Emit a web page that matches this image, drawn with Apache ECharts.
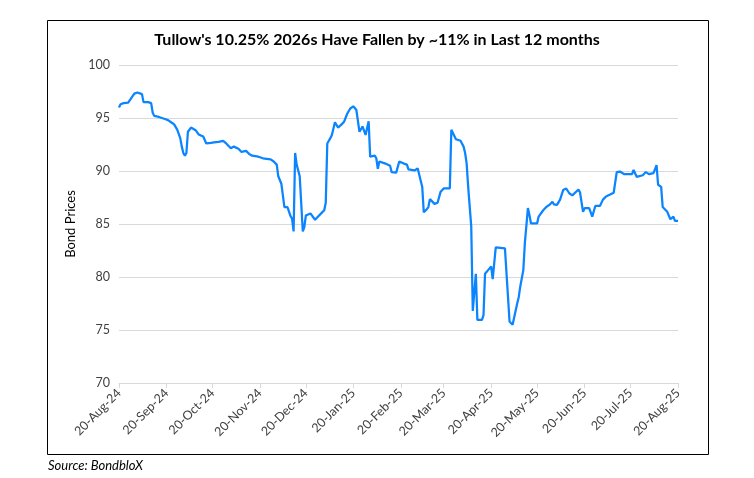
<!DOCTYPE html>
<html>
<head>
<meta charset="utf-8">
<script src="https://cdn.jsdelivr.net/npm/echarts@6/dist/echarts.min.js"></script>
<style>
html,body{margin:0;padding:0;background:#fff;}
#chart{width:754px;height:478px;}
</style>
</head>
<body>
<div id="chart"></div>
<script>
const titleText = "Tullow's 10.25% 2026s Have Fallen by ~11% in Last 12 months";
const yAxisName = "Bond Prices";
const sourceText = "Source: BondbloX";
const yTicks = [70, 75, 80, 85, 90, 95, 100];
const xTickDates = ["2024-08-20","2024-09-20","2024-10-20","2024-11-20","2024-12-20","2025-01-20","2025-02-20","2025-03-20","2025-04-20","2025-05-20","2025-06-20","2025-07-20","2025-08-20"];
const monthNames = ["Jan","Feb","Mar","Apr","May","Jun","Jul","Aug","Sep","Oct","Nov","Dec"];

const dates = [
"2024-08-20","2024-08-21","2024-08-23","2024-08-26","2024-08-27","2024-08-30","2024-09-01","2024-09-04","2024-09-05","2024-09-08",
"2024-09-10","2024-09-11","2024-09-12","2024-09-13","2024-09-15","2024-09-17","2024-09-19","2024-09-20","2024-09-21","2024-09-23",
"2024-09-25","2024-09-27","2024-09-29","2024-09-30","2024-10-01","2024-10-02","2024-10-03","2024-10-04","2024-10-06","2024-10-09",
"2024-10-11","2024-10-14","2024-10-16","2024-10-17","2024-10-19","2024-10-21","2024-10-22","2024-10-24","2024-10-27","2024-10-29",
"2024-11-01","2024-11-03","2024-11-04","2024-11-06","2024-11-08","2024-11-11","2024-11-13","2024-11-15","2024-11-19","2024-11-20",
"2024-11-22","2024-11-27","2024-11-29","2024-12-01","2024-12-02","2024-12-04","2024-12-06","2024-12-08","2024-12-10","2024-12-11",
"2024-12-12","2024-12-13","2024-12-14","2024-12-16","2024-12-17","2024-12-18","2024-12-19","2024-12-20","2024-12-23","2024-12-26",
"2024-12-28","2024-12-30","2025-01-01","2025-01-02","2025-01-03","2025-01-05","2025-01-06","2025-01-08","2025-01-10","2025-01-12",
"2025-01-14","2025-01-16","2025-01-18","2025-01-20","2025-01-21","2025-01-22","2025-01-24","2025-01-26","2025-01-28","2025-01-30",
"2025-01-31","2025-02-03","2025-02-04","2025-02-05","2025-02-06","2025-02-10","2025-02-13","2025-02-14","2025-02-17","2025-02-19",
"2025-02-22","2025-02-24","2025-02-25","2025-03-01","2025-03-03","2025-03-04","2025-03-06","2025-03-07","2025-03-09","2025-03-10",
"2025-03-11","2025-03-12","2025-03-14","2025-03-16","2025-03-18","2025-03-20","2025-03-24","2025-03-25","2025-03-26","2025-03-28",
"2025-03-31","2025-04-02","2025-04-03","2025-04-04","2025-04-05","2025-04-07","2025-04-08","2025-04-10","2025-04-11","2025-04-14",
"2025-04-15","2025-04-16","2025-04-18","2025-04-20","2025-04-21","2025-04-23","2025-04-29","2025-05-02","2025-05-04","2025-05-05",
"2025-05-07","2025-05-08","2025-05-09","2025-05-11","2025-05-12","2025-05-14","2025-05-15","2025-05-16","2025-05-20","2025-05-21",
"2025-05-24","2025-05-26","2025-05-27","2025-05-28","2025-05-30","2025-05-31","2025-06-02","2025-06-04","2025-06-06","2025-06-08",
"2025-06-10","2025-06-12","2025-06-16","2025-06-17","2025-06-19","2025-06-20","2025-06-23","2025-06-25","2025-06-27","2025-06-30",
"2025-07-02","2025-07-04","2025-07-07","2025-07-09","2025-07-11","2025-07-13","2025-07-16","2025-07-21","2025-07-22","2025-07-24",
"2025-07-28","2025-07-30","2025-08-01","2025-08-04","2025-08-06","2025-08-07","2025-08-09","2025-08-10","2025-08-13","2025-08-15",
"2025-08-16","2025-08-17","2025-08-18","2025-08-20"
];
const prices = [
96.0,96.3,96.4,96.45,96.5,97.3,97.4,97.25,96.5,96.5,
96.4,95.5,95.2,95.3,95.1,95.0,94.9,95.0,94.8,94.6,
94.4,93.9,93.1,92.3,91.7,91.45,91.7,93.7,94.1,93.85,
93.45,93.25,92.6,92.7,92.65,92.7,92.6,92.75,92.85,92.6,
92.15,92.3,92.4,92.1,91.8,91.9,91.6,91.45,91.35,91.45,
91.2,91.1,90.9,90.6,89.5,88.8,86.6,86.6,85.75,85.5,
84.3,91.7,90.6,89.5,89.5,84.3,84.7,85.8,86.0,85.4,
85.7,86.0,86.3,87.0,92.6,93.1,93.4,94.6,94.1,94.35,
94.65,95.4,95.9,96.1,96.2,95.75,93.7,94.2,93.4,94.7,
91.35,91.45,91.2,90.2,90.9,90.7,90.5,89.9,89.85,90.9,
90.7,90.6,90.15,90.05,90.25,90.1,88.5,86.1,86.4,86.6,
87.35,87.2,86.9,87.0,88.05,88.35,88.35,93.9,93.95,93.0,
92.85,92.3,91.7,90.7,88.5,84.75,76.8,80.3,75.95,75.95,
76.4,80.3,80.65,81.0,79.8,82.8,82.7,75.8,75.5,75.6,
77.5,78.1,79.1,80.65,83.2,86.5,85.85,85.05,85.05,85.7,
86.3,86.6,86.55,86.8,87.1,86.85,86.8,87.3,88.2,88.35,
87.9,87.7,88.25,88.0,86.15,86.5,86.5,85.7,86.7,86.7,
87.3,87.6,87.8,87.95,89.9,89.95,89.7,89.7,90.1,89.45,
89.6,89.9,89.7,89.8,90.55,88.7,88.5,86.6,86.15,85.45,
85.5,85.7,85.3,85.3
];

function toTs(s){ const p = s.split('-').map(Number); return Date.UTC(p[0], p[1]-1, p[2]); }
const seriesData = dates.map((d,i)=>[toTs(d), prices[i]]);
const xTickValues = xTickDates.map(toTs);

const chart = echarts.init(document.getElementById('chart'), null, {renderer:'canvas'});
const FONT = 'Lato';
chart.setOption({
  animation:false,
  backgroundColor:'#ffffff',
  title:{
    text:titleText, left:'center', top:27,
    textStyle:{fontFamily:FONT, fontWeight:'bold', fontSize:16, color:'#000000'}
  },
  grid:{left:119, right:76, top:65, bottom:95, containLabel:false},
  xAxis:{
    type:'value',
    min:xTickValues[0], max:xTickValues[xTickValues.length-1],
    axisLine:{show:true, lineStyle:{color:'#d9d9d9', width:1}},
    axisTick:{show:true, length:5, customValues:xTickValues, lineStyle:{color:'#d9d9d9'}},
    splitLine:{show:false},
    axisLabel:{
      customValues:xTickValues, rotate:45, margin:8, fontFamily:FONT, fontSize:12.5, color:'#404040',
      formatter:function(v){ const d=new Date(v); return d.getUTCDate()+'-'+monthNames[d.getUTCMonth()]+'-'+String(d.getUTCFullYear()).slice(2); }
    }
  },
  yAxis:{
    type:'value', min:yTicks[0], max:yTicks[yTicks.length-1], interval:5,
    name:yAxisName, nameLocation:'middle', nameGap:37, nameRotate:90,
    nameTextStyle:{fontFamily:FONT, fontSize:13, color:'#000000'},
    axisLine:{show:false}, axisTick:{show:false},
    splitLine:{lineStyle:{color:'#d9d9d9', width:1}},
    axisLabel:{fontFamily:FONT, fontSize:12.5, color:'#404040', margin:9}
  },
  series:[{
    type:'line', data:seriesData, showSymbol:false, symbol:'none',
    lineStyle:{color:'#0a84ff', width:2.25}, itemStyle:{color:'#0a84ff'}
  }],
  graphic:[
    {type:'rect', shape:{x:47.5, y:20.5, width:661, height:434}, style:{fill:null, stroke:'#000000', lineWidth:1}, silent:true, z:-1},
    {type:'text', left:48, top:459, style:{text:sourceText, fontFamily:FONT, fontStyle:'italic', fontSize:13, fill:'#000000'}}
  ]
});
</script>
</body>
</html>
